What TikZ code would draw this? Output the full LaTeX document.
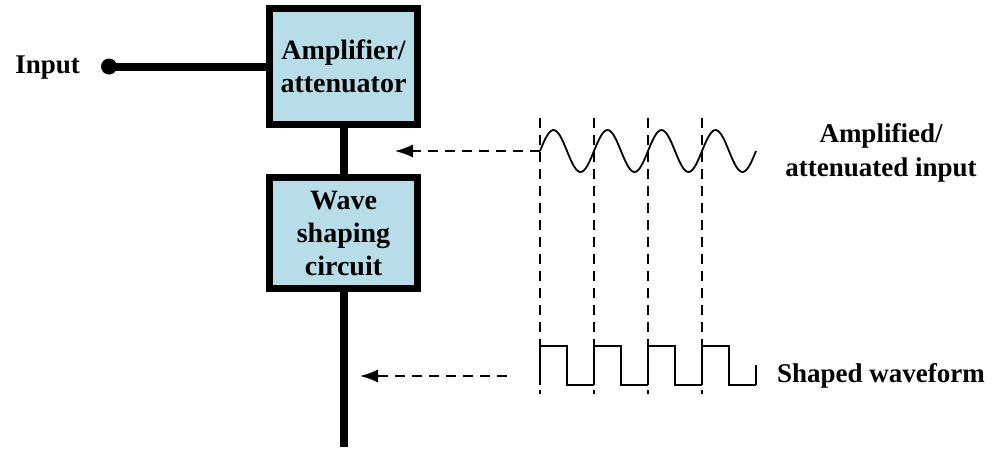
\documentclass[tikz,border=0pt]{standalone}
\usepackage{fontspec}
\setmainfont{Liberation Serif}
\usetikzlibrary{arrows.meta,positioning}
\definecolor{blockBlue}{HTML}{B7DDE8}

\begin{document}
\begin{tikzpicture}[x=1pt,y=-1pt,>=Latex,line join=miter]
\path[fill=white] (0,0) rectangle (992,451);
\tikzset{block/.style={draw=black,fill=blockBlue,line width=7pt,align=center,inner sep=0pt,font=\fontsize{28}{33}\selectfont\bfseries},wire/.style={draw=black,line width=8pt},trace/.style={draw=black,line width=1.8pt},guide/.style={draw=black,line width=1.4pt,dash pattern=on 10pt off 7pt},label/.style={align=center,inner sep=0pt,font=\fontsize{27}{34}\selectfont\bfseries}}
% blocks and main signal path
\node[block,minimum width=148pt,minimum height=116pt] (amp) at (343.5,66.5) {Amplifier/\\attenuator};
\node[block,minimum width=148pt,minimum height=111pt] (shaper) at (343.5,233) {Wave\\shaping\\circuit};
\coordinate (inDot) at (109,66.5); \coordinate (outEnd) at (343.5,447);
\node[label,anchor=base east] (inLbl) at (80,73) {Input};
\fill (inDot) circle[radius=8pt];
\draw[wire] (inDot) -- (amp.west); \draw[wire] (amp.south) -- (shaper.north); \draw[wire] (shaper.south) -- (outEnd);
% waveforms
\draw[trace] plot[domain=0:216,samples=120,smooth] ({540+\x},{151-21*sin(\x/54*360)});
\foreach \k in {0,1,2,3} {\draw[trace] (540+54*\k,385) -- ++(0,-39) -- ++(27,0) -- ++(0,39) -- ++(27,0);}
\draw[trace] (756,385) -- (756,365);
\foreach \k in {0,1,2,3} {\draw[guide] (540+54*\k,118) -- (540+54*\k,394);}
% taps
\coordinate (sineTap) at (540,151); \coordinate (sineTip) at (395,151);
\coordinate (sqTap) at (507,376); \coordinate (sqTip) at (360,376);
\draw[guide,-{Latex[length=18pt,width=13pt]}] (sineTap) -- (sineTip);
\draw[guide,-{Latex[length=18pt,width=13pt]}] (sqTap) -- (sqTip);
\node[label] (sineLbl) at (881,153) {Amplified/\\attenuated input};
\node[label,anchor=base west] (sqLbl) at (777,382) {Shaped waveform};
\end{tikzpicture}
\end{document}
